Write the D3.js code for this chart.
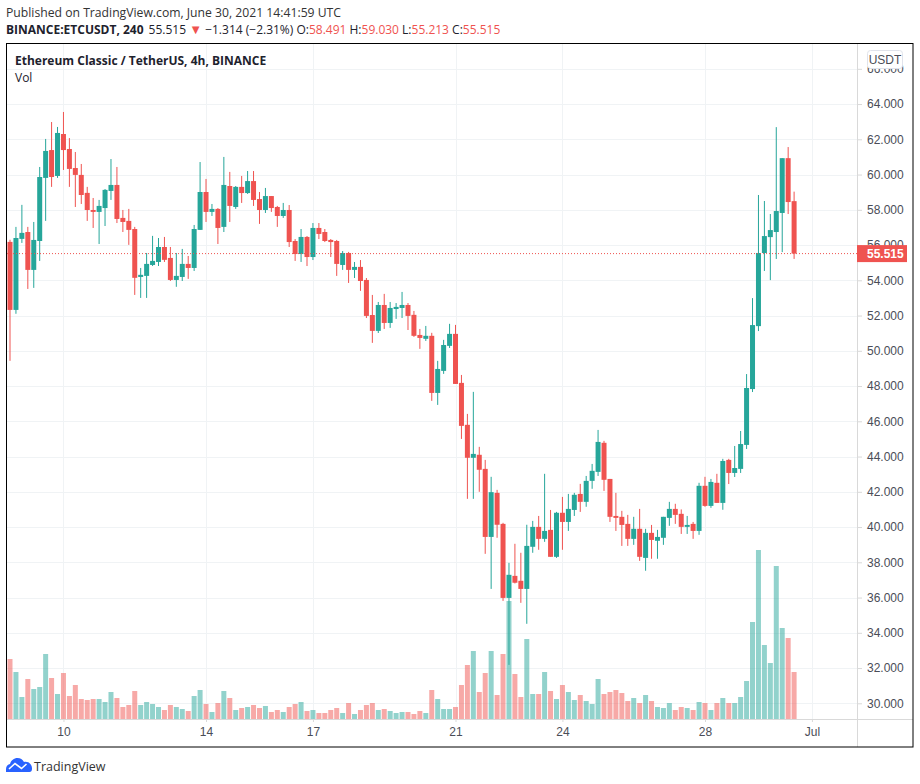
<!DOCTYPE html>
<html>
<head>
<meta charset="utf-8">
<script src="https://cdn.jsdelivr.net/npm/d3@7"></script>
<style>
  html, body { margin: 0; padding: 0; background: #fff; }
  text { font-family: "Open Sans", sans-serif; }
</style>
</head>
<body>
<div id="plot"></div>
<script>
// 4h candles, one value per bar
const opens = [
  56.18,52.32,56.35,56.74,54.59,56.23,59.81,61.39,59.92,62.30,61.45,60.37,59.98,58.96,57.99,57.88,58.10,59.07,59.41,57.54,
  57.37,56.91,54.19,54.25,54.87,55.04,55.89,55.27,54.02,54.19,54.93,54.70,56.86,59.01,57.88,58.05,57.03,59.35,58.16,59.30,
  58.95,59.63,58.61,57.99,58.78,58.16,57.65,57.99,56.23,55.49,56.46,55.32,56.97,56.74,56.29,56.23,54.87,55.55,54.59,54.76,
  54.02,52.03,51.13,52.60,51.58,52.37,52.43,52.60,52.04,50.90,50.68,50.85,47.61,48.86,50.28,50.96,48.18,45.80,43.93,44.10,
  43.30,39.44,41.94,40.18,35.98,37.23,36.95,36.49,38.88,40.01,39.33,39.84,38.31,40.81,40.29,40.97,41.88,41.43,42.62,43.13,
  44.78,42.73,40.63,40.58,40.18,39.33,39.90,38.25,39.67,39.22,39.39,40.52,41.03,40.75,40.01,40.18,39.78,42.34,41.20,42.51,
  41.37,43.81,43.07,43.30,44.66,47.83,51.40,55.55,56.45,56.74,57.82,60.93,58.491
];
const highs = [
  56.30,57.03,58.28,57.03,57.31,60.43,62.02,62.98,62.70,63.55,62.07,61.28,60.60,59.30,58.67,58.56,59.18,60.88,60.43,57.99,
  58.05,57.03,54.70,55.55,56.52,56.40,56.46,55.89,55.55,55.78,55.38,57.14,60.71,59.75,58.33,58.10,61.00,60.15,59.35,59.92,
  60.20,60.20,59.01,59.24,58.78,58.22,58.39,58.27,56.34,56.91,56.51,57.25,57.25,56.91,56.34,56.29,55.66,55.61,55.04,55.15,
  54.13,53.17,52.77,53.23,52.77,52.71,53.34,52.71,52.26,51.24,51.41,51.02,49.43,50.62,51.53,51.47,48.63,46.42,47.67,44.55,
  43.81,42.85,42.11,40.24,37.97,39.05,38.54,40.13,40.35,40.63,43.02,40.97,40.86,41.71,41.88,41.94,42.45,42.90,43.58,45.51,
  44.89,42.73,41.94,40.92,40.69,40.58,41.03,39.90,40.12,39.84,40.58,41.43,41.32,41.00,40.63,40.29,42.51,42.85,42.73,43.02,
  43.87,43.87,44.60,45.45,48.68,52.99,58.84,58.50,57.76,62.69,60.93,61.56,59.030
];
const lows = [
  49.43,52.10,56.12,53.51,53.57,55.10,57.37,59.30,59.81,60.26,59.30,58.16,58.33,57.37,56.97,56.06,57.08,58.56,57.25,56.74,
  56.01,53.17,53.00,53.00,54.81,54.81,55.04,53.96,53.63,53.96,54.08,54.53,56.86,57.31,57.65,56.06,56.74,57.31,58.05,58.39,
  58.90,58.22,57.20,57.82,57.88,57.03,57.54,55.89,55.10,55.04,54.81,55.15,56.34,56.17,55.32,54.25,54.59,53.85,54.13,53.40,
  51.86,50.45,51.01,51.24,51.30,51.81,51.86,51.18,50.79,50.11,50.56,47.16,46.93,48.69,50.16,48.12,45.00,41.60,41.60,42.00,
  38.48,36.49,39.39,35.81,32.18,36.80,35.70,34.51,38.54,38.71,39.16,38.31,38.25,38.71,39.78,40.63,40.86,41.15,42.17,42.90,
  42.05,40.29,39.78,38.93,38.93,38.99,38.08,37.52,38.20,38.20,38.99,40.07,40.18,39.61,39.61,39.33,39.56,41.15,41.09,41.37,
  40.98,42.44,42.84,43.07,44.43,47.66,51.12,54.53,54.01,55.21,55.60,57.76,55.213
];
const closes = [
  52.32,56.40,56.69,54.59,56.29,59.86,61.34,59.86,62.36,61.39,60.32,59.98,58.84,57.99,57.88,58.22,59.13,59.41,57.48,57.31,
  56.86,54.14,54.31,54.93,55.10,55.89,55.16,54.02,54.25,54.93,54.70,56.91,59.01,57.88,58.05,56.97,59.41,58.22,59.30,58.95,
  59.63,58.56,57.99,58.78,58.10,57.65,57.99,56.17,55.49,56.46,55.32,56.97,56.63,56.23,56.17,54.93,55.55,54.59,54.76,53.96,
  51.98,51.13,52.60,51.58,52.43,52.49,52.60,51.98,50.85,50.73,50.85,47.61,48.97,50.33,50.96,48.12,45.74,43.93,44.15,43.25,
  39.44,41.98,40.13,35.98,37.29,36.84,36.49,38.93,40.01,39.33,39.78,38.31,40.81,40.29,41.03,41.83,41.43,42.62,43.19,44.83,
  42.68,40.58,40.52,40.12,39.33,39.90,38.31,39.67,39.27,39.44,40.58,41.03,40.69,40.01,40.12,39.78,42.34,41.20,42.56,41.37,
  43.75,43.07,43.35,44.71,47.89,51.46,55.55,56.51,56.85,57.93,60.93,58.44,55.515
];
// volume has no axis in the picture, so units are just relative heights
const volumes = [
  60,47,22,40,30,32,65,41,25,46,23,34,20,19,20,20,17,27,21,12,
  14,28,14,17,15,12,9,14,12,10,8,23,29,15,7,16,28,21,9,11,
  12,14,11,13,7,9,7,12,15,17,8,9,6,6,9,11,6,16,5,9,
  14,16,9,10,8,6,7,7,5,8,6,29,20,10,10,12,34,54,68,27,
  46,68,24,65,118,45,22,80,25,25,47,28,20,34,27,19,24,18,15,40,
  25,27,29,26,18,21,16,24,18,12,11,16,9,12,11,9,17,16,9,16,
  21,16,16,22,38,97,169,74,56,153,91,81,47
];

const priceTicks = [30,32,34,36,38,40,42,44,46,48,50,52,54,56,58,60,62,64,66];
const timeTickBars = [9,33,51,75,93,117,135];
const timeTickLabels = ["10","14","17","21","24","28","Jul"];

const lastPrice = 55.515;
const headerValues = ["58.491","59.030","55.213","55.515"];

const up = "#26a69a", down = "#ef5350";
const chart = { left: 7, right: 857, top: 44, bottom: 719, outer: 913, base: 747 };

const svg = d3.select("#plot").append("svg")
  .attr("width", 920)
  .attr("height", 784)
  .style("display", "block");

// Create scales
const xScale = d3.scaleLinear().domain([0, 132]).range([10, 794.1]);
const yScale = d3.scaleLinear().domain([30, 62]).range([703.3, 139.3]);
const volScale = d3.scaleLinear().domain([0, 169]).range([chart.bottom, 550]);

const color = i => closes[i] >= opens[i] ? up : down;
const bars = d3.range(opens.length);

svg.append("defs").append("clipPath").attr("id", "pane")
  .append("rect")
  .attr("x", chart.left).attr("y", chart.top)
  .attr("width", chart.right - chart.left).attr("height", chart.bottom - chart.top);

// Grid
const grid = svg.append("g").attr("stroke", "#f0f3f5").attr("stroke-width", 1);
priceTicks.forEach(p => {
  const y = Math.round(yScale(p)) + 0.5;
  grid.append("line").attr("x1", chart.left).attr("x2", chart.right).attr("y1", y).attr("y2", y);
});
timeTickBars.forEach(b => {
  const x = Math.round(xScale(b)) + 0.5;
  grid.append("line").attr("x1", x).attr("x2", x).attr("y1", chart.top).attr("y2", chart.bottom);
});

const pane = svg.append("g").attr("clip-path", "url(#pane)");

// Volume
pane.append("g").selectAll("rect").data(bars).join("rect")
  .attr("x", i => xScale(i) - 2.5)
  .attr("width", 5)
  .attr("y", i => volScale(volumes[i]))
  .attr("height", i => chart.bottom - volScale(volumes[i]))
  .attr("fill", color)
  .attr("fill-opacity", 0.5);

// Candles
pane.append("g").selectAll("line").data(bars).join("line")
  .attr("x1", i => xScale(i)).attr("x2", i => xScale(i))
  .attr("y1", i => yScale(highs[i])).attr("y2", i => yScale(lows[i]))
  .attr("stroke", color).attr("stroke-width", 1);

pane.append("g").selectAll("rect").data(bars).join("rect")
  .attr("x", i => xScale(i) - 2.5)
  .attr("width", 5)
  .attr("y", i => yScale(Math.max(opens[i], closes[i])))
  .attr("height", i => Math.abs(yScale(opens[i]) - yScale(closes[i])))
  .attr("fill", color);

// Last price dotted line
pane.append("line")
  .attr("x1", chart.left).attr("x2", chart.right)
  .attr("y1", yScale(lastPrice)).attr("y2", yScale(lastPrice))
  .attr("stroke", down).attr("stroke-dasharray", "1 2");

// Axes
const axisColor = "#d9d9d9";
const priceAxis = svg.append("g")
  .attr("transform", "translate(" + chart.right + ",0)")
  .call(d3.axisRight(yScale).tickValues(priceTicks).tickFormat(d3.format(".3f")).tickSize(5).tickPadding(5));
priceAxis.select(".domain").remove();
priceAxis.selectAll("line").attr("stroke", axisColor);
priceAxis.selectAll("text").attr("fill", "#4a4d57").style("font-size", "12px")
  .style("font-family", "'Liberation Sans', Arial, sans-serif");

const timeAxis = svg.append("g")
  .attr("transform", "translate(0," + chart.bottom + ")")
  .call(d3.axisBottom(xScale).tickValues(timeTickBars)
    .tickFormat((d, i) => timeTickLabels[i]).tickSize(3).tickPadding(5));
timeAxis.select(".domain").remove();
timeAxis.selectAll("line").attr("stroke", axisColor);
timeAxis.selectAll("text").attr("fill", "#4a4d57").style("font-size", "12px")
  .style("font-family", "'Liberation Sans', Arial, sans-serif");

svg.append("line").attr("x1", chart.left).attr("x2", chart.outer)
  .attr("y1", chart.bottom + 0.5).attr("y2", chart.bottom + 0.5).attr("stroke", axisColor);
svg.append("line").attr("x1", chart.right + 0.5).attr("x2", chart.right + 0.5)
  .attr("y1", chart.top).attr("y2", chart.base).attr("stroke", axisColor);

// Frame
svg.append("rect")
  .attr("x", 6.5).attr("y", 43.5)
  .attr("width", 906.5).attr("height", 703.5)
  .attr("fill", "none").attr("stroke", "#000").attr("stroke-width", 1);

// USDT button
svg.append("rect")
  .attr("x", 867.5).attr("y", 50.5).attr("width", 35).attr("height", 18).attr("rx", 3)
  .attr("fill", "#fff").attr("stroke", "#e0e3eb");
svg.append("text").attr("x", 885).attr("y", 64).attr("text-anchor", "middle")
  .attr("fill", "#4a4d57").style("font-size", "12px")
  .style("font-family", "'Liberation Sans', Arial, sans-serif").text("USDT");

// Last price label
svg.append("rect")
  .attr("x", chart.right).attr("y", yScale(lastPrice) - 8.5).attr("width", 50).attr("height", 17)
  .attr("fill", down);
svg.append("text").attr("x", 867).attr("y", yScale(lastPrice) + 4)
  .attr("fill", "#fff").style("font-size", "12px").style("font-weight", "bold")
  .style("font-family", "'Liberation Sans', Arial, sans-serif").text(lastPrice.toFixed(3));

// Header
const textColor = "#1e222d";
svg.append("text").attr("x", 6).attr("y", 17).attr("fill", "#333")
  .style("font-size", "12.2px").text("Published on TradingView.com, June 30, 2021 14:41:59 UTC");

const info = svg.append("text").attr("x", 6).attr("y", 34).attr("fill", textColor).style("font-size", "12px");
info.append("tspan").style("font-weight", "bold").text("BINANCE:ETCUSDT, 240");
info.append("tspan").attr("dx", 5).text(headerValues[3] + " ");
info.append("tspan").attr("fill", down).style("font-size", "13px").text("▼");
info.append("tspan").text(" −1.314 (−2.31%) ");
["O:", "H:", "L:", "C:"].forEach((k, i) => {
  info.append("tspan").text(k);
  info.append("tspan").attr("fill", down).text(headerValues[i] + (i < 3 ? " " : ""));
});

svg.append("text").attr("x", 15).attr("y", 65).attr("fill", textColor)
  .style("font-size", "12px").style("font-weight", "700")
  .text("Ethereum Classic / TetherUS, 4h, BINANCE");
svg.append("text").attr("x", 15).attr("y", 82).attr("fill", textColor)
  .style("font-size", "12px").text("Vol");

// Footer logo
const logo = svg.append("g").attr("transform", "translate(6,758)");
logo.append("path")
  .attr("d", "M0 14 L0 11 C0 8 2 6.5 4 6 C5 2.5 8 0 11.5 0 C14.5 0 16.5 1.5 18 4 C22 3 26 6 26 10 L26 11 C26 13 25 14 23.5 14 Z")
  .attr("fill", "#2962ff");
logo.append("path")
  .attr("d", "M3 11 L9 5.5 L15.5 10.5 L20.5 6")
  .attr("fill", "none").attr("stroke", "#fff").attr("stroke-width", 1.6);
svg.append("text").attr("x", 34).attr("y", 771).attr("fill", "#333")
  .style("font-size", "12.5px").text("TradingView");
</script>
</body>
</html>
